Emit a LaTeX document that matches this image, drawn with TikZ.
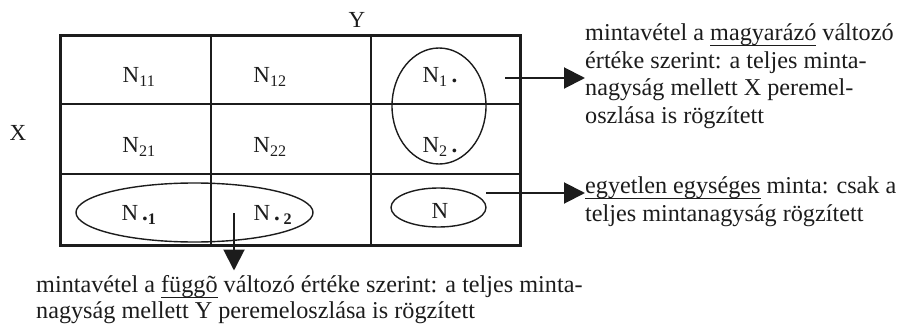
\documentclass[tikz,border=0pt]{standalone}
\usepackage{fontspec}
\setmainfont{Liberation Serif}
\usepackage{xcolor}
\definecolor{Ink}{HTML}{1C1C1C}
\usepackage{tikz}
\usetikzlibrary{arrows.meta, positioning, shapes}
\newcommand{\ulword}[1]{\setbox0\hbox{#1}\rlap{\raisebox{-5.5pt}{\rule{\wd0}{1.1pt}}}\box0\relax}
\tikzset{
  cell/.style={inner sep=0pt, text=Ink, font=\fontsize{23}{27}\selectfont},
  oval/.style={ellipse, draw=Ink, line width=1.4pt, inner sep=0pt},
  note/.style={align=left, inner sep=0pt, anchor=north west, text=Ink,
    font=\fontsize{24.2}{27.5}\selectfont},
  arr/.style={-{Triangle[length=21pt, width=21pt]}, line width=2pt, color=Ink},
}

\begin{document}
\begin{tikzpicture}[x=1pt, y=-1pt]
\useasboundingbox (0,0) rectangle (898,324);

% Table grid
\draw[Ink, line width=1.3pt] (211,35) -- (211,245) (371,35) -- (371,245)
  (60,104) -- (520,104) (60,174) -- (520,174);
\draw[Ink, line width=3pt] (60,35) rectangle (520,245);

% Variable labels
\node[cell] (ylab) at (357,20) {Y};
\node[cell] (xlab) at (18,133) {X};

% Cell counts
\node[cell] (n11) at (139,77) {N\textsubscript{11}};
\node[cell] (n12) at (270,77) {N\textsubscript{12}};
\node[cell] (n1d) at (440,77) {N\textsubscript{1}\,\textbf{.}};
\node[cell] (n21) at (139,147) {N\textsubscript{21}};
\node[cell] (n22) at (270,147) {N\textsubscript{22}};
\node[cell] (n2d) at (440,147) {N\textsubscript{2}\,\textbf{.}};
\node[cell] (nd1) at (139,215) {N\,\textbf{.}\textsubscript{\textbf{1}}};
\node[cell] (nd2) at (273,215) {N\,\textbf{.}\,\textsubscript{\textbf{2}}};
\node[cell] (ntot) at (440,211) {N};

% Marginal ovals
\node[oval, minimum width=94pt, minimum height=116pt] (rowsum) at (439,106) {};
\node[oval, minimum width=237pt, minimum height=59pt] (colsum) at (194.5,212.5) {};
\node[oval, minimum width=95pt, minimum height=39pt] (total) at (438.5,207.5) {};

% Explanations
\node[note] (rowtxt) at (585,23.5) {mintavétel a \ulword{magyarázó} változó\\
  értéke szerint: a teljes minta-\\
  nagyság mellett X peremel-\\
  oszlása is rögzített};
\node[note] (tottxt) at (585,176.5) {\ulword{egyetlen egységes} minta: csak a\\
  teljes mintanagyság rögzített};
\node[note, font=\fontsize{24.2}{26}\selectfont] (coltxt) at (36,275.5)
  {mintavétel a \ulword{függõ} változó értéke szerint: a teljes minta-\\
  nagyság mellett Y peremeloszlása is rögzített};

% Arrows
\coordinate (r1) at (505,78);
\coordinate (r2) at (486,193);
\coordinate (c1) at (234,213);
\draw[arr] (r1) -- (r1 -| rowtxt.west);
\draw[arr] (r2) -- (r2 -| tottxt.west);
\draw[arr] (c1) -- ([yshift=5pt]c1 |- coltxt.north);

\end{tikzpicture}
\end{document}
